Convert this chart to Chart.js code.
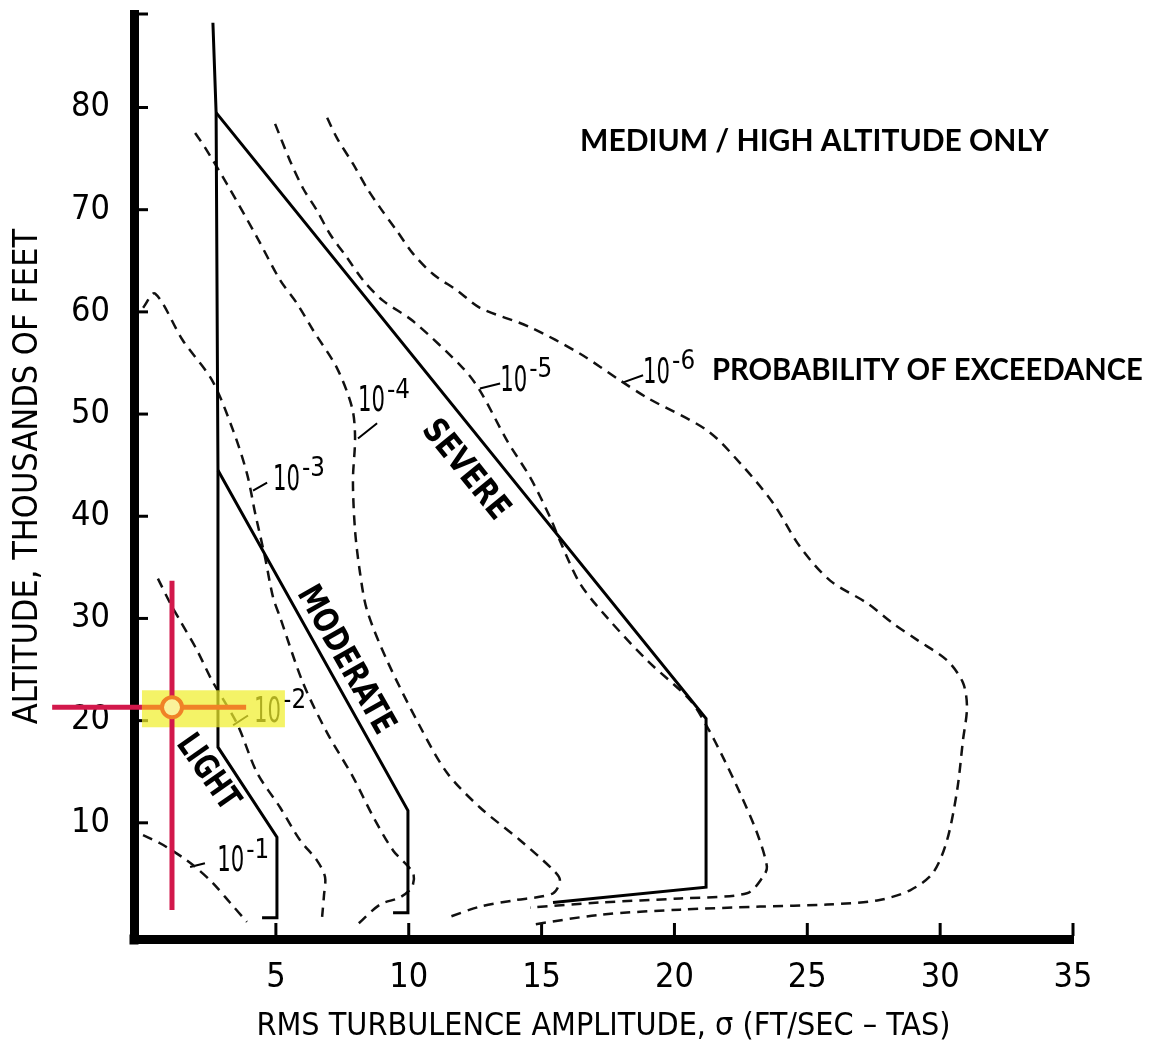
<!DOCTYPE html>
<html lang="en">
<head>
<meta charset="UTF-8">
<title>RMS turbulence amplitude vs altitude</title>
<script src="https://cdn.jsdelivr.net/npm/chart.js"></script>
<style>
  html, body { margin: 0; padding: 0; background: #fff; overflow: hidden; }
  canvas { display: block; }
</style>
</head>
<body>
<canvas id="chart" width="1154" height="1051"></canvas>
<script>
// axis ticks
const xTicks = [5, 10, 15, 20, 25, 30, 35];
const yTicks = [10, 20, 30, 40, 50, 60, 70, 80];

// severity boundaries, [sigma ft/s, altitude kft]
const lightBound = [[2.63, 88.3], [2.75, 79.5], [2.82, 44.5], [2.82, 17.4], [5.04, 8.6], [5.04, 0.7], [4.48, 0.7]];
const moderateBound = [[2.82, 44.5], [9.97, 11.2], [9.97, 1.2], [9.41, 1.2]];
const severeBound = [[2.75, 79.5], [21.19, 20.2], [21.19, 3.7], [15.43, 2.2]];

// probability of exceedance curves
const p1 = [[0, 8.8], [0.64, 8.0], [1.5, 6.6], [1.96, 5.7], [2.63, 4.1], [3.27, 2.2], [3.91, 0.3]];
const p2 = [[0.56, 33.9], [1.02, 31.5], [1.39, 29.8], [2.03, 26.9], [2.6, 23.9], [3.54, 19.7], [4.29, 14.9],
  [5.16, 11.5], [5.91, 8.3], [6.55, 6.3], [6.85, 4.7], [6.81, 2.9], [6.74, 0.8]];
const p3 = [[0, 60.4], [0.45, 61.8], [1.5, 57.2], [2.6, 53.3], [3.39, 48.4], [3.91, 44.2], [4.22, 40.3],
  [4.59, 36.0], [4.89, 32.1], [5.16, 30.1], [6.02, 23.7], [6.93, 18.8], [7.9, 14.5], [8.66, 10.6],
  [9.41, 7.3], [10.16, 5.1], [10.12, 3.7], [9.67, 2.7], [8.92, 2.0], [8.05, 0.0]];
const p4 = [[1.96, 77.5], [2.33, 76.1], [3.16, 72.5], [4.29, 67.3], [5.16, 63.1], [5.8, 60.8], [6.4, 58.2],
  [7.3, 54.5], [7.87, 50.6], [7.98, 47.7], [7.9, 43.5], [7.98, 38.6], [8.17, 34.4], [8.43, 30.8],
  [9.18, 25.9], [10.43, 19.4], [11.44, 14.9], [12.68, 11.5], [14.19, 8.3], [15.43, 5.4], [15.69, 4.4],
  [15.43, 3.1], [13.93, 2.4], [12.68, 1.8], [11.44, 0.7]];
const p5 = [[4.97, 78.4], [5.53, 74.8], [6.02, 72.1], [6.55, 69.9], [7.04, 67.6], [7.68, 65.3], [8.28, 63.1],
  [9.03, 61.1], [10.16, 59.1], [12.04, 54.5], [12.68, 52.3], [13.7, 47.4], [14.57, 43.8], [15.32, 39.9],
  [15.69, 37.6], [16.45, 33.4], [17.46, 30.1], [18.97, 25.9], [20.59, 22.0], [21.23, 19.4], [21.83, 16.4],
  [22.47, 12.9], [23.11, 9.0], [23.48, 5.7], [23.33, 4.7], [22.73, 3.1], [20.21, 2.6], [17.2, 2.2], [14.57, 1.7]];
const p6 = [[6.93, 79.0], [7.3, 77.0], [7.9, 74.5], [8.43, 72.1], [8.92, 70.2], [9.56, 67.9], [10.16, 65.7],
  [10.91, 63.7], [11.82, 62.1], [12.68, 60.4], [14.57, 58.5], [16.45, 55.9], [17.95, 53.3], [18.97, 51.6],
  [21.23, 48.4], [22.47, 45.2], [23.71, 41.3], [24.73, 37.0], [25.86, 33.7], [27.25, 31.5], [28.23, 29.5],
  [29.13, 27.9], [30.26, 25.9], [30.86, 23.7], [31.01, 21.3], [30.86, 18.1], [30.64, 13.2], [30.26, 8.3],
  [29.73, 5.1], [28.87, 3.4], [27.63, 2.4], [25.74, 2.0], [23.22, 1.8], [20.21, 1.5], [17.2, 1.0], [14.57, 0.0]];

// little leader strokes from curve to its label (null = break)
const leaders = [[1.77, 5.67], [2.33, 6.05], null, [3.39, 19.55], [3.95, 20.5], null,
  [4.14, 42.5], [4.67, 43.3], null, [8.09, 47.6], [8.81, 49.1], null,
  [12.68, 52.5], [13.44, 53.0], null, [18.07, 53.1], [18.82, 53.8]];

// reading cursor drawn over the chart
const cursorV = [[1.09, 33.7], [1.09, 1.47]];
const cursorH = [[-3.42, 21.3], [-0.04, 21.3]];
const cursorArm = [[-0.04, 21.3], [3.88, 21.3]];
const cursorPt = [[1.09, 21.3]];
const cursorBox = { x0: -0.04, x1: 5.34, y0: 19.35, y1: 22.97 };

// text on the plot
const probLabels = [
  { exp: '-1', x: 2.79, y: 6.16 }, { exp: '-2', x: 4.18, y: 20.82 }, { exp: '-3', x: 4.89, y: 43.5 },
  { exp: '-4', x: 8.09, y: 51.2 }, { exp: '-5', x: 13.44, y: 53.2 }, { exp: '-6', x: 18.82, y: 53.96 }
];
const zoneLabels = [
  { text: 'SEVERE', x: 12.12, y: 44.5, angle: 51, w: 118 },
  { text: 'MODERATE', x: 7.6, y: 25.9, angle: 60.5, w: 165 },
  { text: 'LIGHT', x: 2.41, y: 14.9, angle: 55, w: 84 }
];
const notes = [
  { text: 'MEDIUM / HIGH ALTITUDE ONLY', x: 16.45, y: 76.7, w: 477 },
  { text: 'PROBABILITY OF EXCEEDANCE', x: 21.41, y: 54.25, w: 431 }
];

const NARROW = "'Liberation Sans Narrow', 'Arial Narrow', 'DejaVu Sans Condensed', sans-serif";
const toXY = arr => arr.map(p => p ? { x: p[0], y: p[1] } : { x: null, y: null });

function solid(pts) {
  return { data: toXY(pts), borderColor: '#000', borderWidth: 3, tension: 0, order: 10 };
}
function dashed(pts) {
  return { data: toXY(pts), borderColor: '#111', borderWidth: 2.5, borderDash: [10, 7], tension: 0.3, order: 10 };
}

const datasets = [
  solid(lightBound), solid(moderateBound), solid(severeBound),
  dashed(p1), dashed(p2), dashed(p3), dashed(p4), dashed(p5), dashed(p6),
  { data: toXY(leaders), borderColor: '#000', borderWidth: 2, spanGaps: false, tension: 0, order: 10 },
  { label: 'cursor-v', data: toXY(cursorV), borderColor: '#d2184b', borderWidth: 5, tension: 0, clip: false, order: 4 },
  { data: toXY(cursorH), borderColor: '#d2184b', borderWidth: 5, tension: 0, clip: false, order: 3 },
  { data: toXY(cursorArm), borderColor: '#f08227', borderWidth: 5, tension: 0, clip: false, order: 2 },
  { data: toXY(cursorPt), showLine: false, pointRadius: 10, pointBorderWidth: 4,
    pointBorderColor: '#f08227', pointBackgroundColor: '#faf19a', clip: false, order: 1 }
];

const annotate = {
  id: 'annotate',
  beforeDatasetsDraw(chart) {
    const { ctx, chartArea: a, scales: { x, y } } = chart;
    ctx.save();
    ctx.strokeStyle = '#000';
    ctx.fillStyle = '#000';
    ctx.lineWidth = 3;
    // inward tick marks
    xTicks.forEach(v => {
      const px = x.getPixelForValue(v);
      ctx.beginPath(); ctx.moveTo(px, a.bottom - 3); ctx.lineTo(px, a.bottom - 16); ctx.stroke();
    });
    yTicks.concat([y.max]).forEach(v => {
      const py = y.getPixelForValue(v);
      ctx.beginPath(); ctx.moveTo(a.left + 3, py); ctx.lineTo(a.left + 14, py); ctx.stroke();
    });
    ctx.fillRect(a.left - 4.5, a.bottom - 4.5, 9, 10);

    // 10^-n labels
    ctx.textBaseline = 'middle';
    ctx.textAlign = 'left';
    probLabels.forEach(l => {
      const px = x.getPixelForValue(l.x), py = y.getPixelForValue(l.y);
      ctx.font = '36px ' + NARROW;
      ctx.fillText('10', px, py, 27);
      ctx.font = '26px ' + NARROW;
      ctx.fillText(l.exp, px + 29, py - 11, 23);
    });

    // zone names along boundaries
    ctx.textAlign = 'center';
    ctx.font = 'bold 34px ' + NARROW;
    zoneLabels.forEach(l => {
      ctx.save();
      ctx.translate(x.getPixelForValue(l.x), y.getPixelForValue(l.y));
      ctx.rotate(l.angle * Math.PI / 180);
      ctx.fillText(l.text, 0, 0, l.w);
      ctx.restore();
    });

    ctx.textAlign = 'left';
    ctx.font = 'bold 30px Lato, "Open Sans", sans-serif';
    notes.forEach(n => ctx.fillText(n.text, x.getPixelForValue(n.x), y.getPixelForValue(n.y), n.w));
    ctx.restore();
  },
  beforeDatasetDraw(chart, args) {
    if (chart.data.datasets[args.index].label !== 'cursor-v') return;
    const { ctx, scales: { x, y } } = chart;
    const l = x.getPixelForValue(cursorBox.x0), r = x.getPixelForValue(cursorBox.x1);
    const t = y.getPixelForValue(cursorBox.y1), b = y.getPixelForValue(cursorBox.y0);
    ctx.save();
    ctx.fillStyle = 'rgba(240, 238, 45, 0.72)';
    ctx.fillRect(l, t, r - l, b - t);
    ctx.restore();
  }
};

const tickFont = { family: NARROW, size: 34 };

new Chart(document.getElementById('chart'), {
  type: 'line',
  data: { datasets },
  options: {
    responsive: false,
    animation: false,
    layout: { padding: { top: 13, right: 81, left: 0, bottom: 0 } },
    elements: { point: { radius: 0 } },
    plugins: { legend: { display: false }, tooltip: { enabled: false } },
    scales: {
      x: {
        type: 'linear', min: -0.34, max: 35,
        afterBuildTicks: s => { s.ticks = xTicks.map(v => ({ value: v })); },
        afterFit: s => { s.height = 112; s.paddingLeft = 0; s.paddingRight = 0; },
        grid: { display: false, drawTicks: false },
        border: { display: true, color: '#000', width: 9 },
        ticks: { color: '#000', font: tickFont, padding: 19, maxRotation: 0 },
        title: { display: true, text: 'RMS TURBULENCE AMPLITUDE, σ (FT/SEC – TAS)', color: '#000',
          font: { family: NARROW, size: 32, lineHeight: 1 }, padding: { top: 0, bottom: 8 } }
      },
      y: {
        type: 'linear', min: -1.37, max: 89.15,
        afterBuildTicks: s => { s.ticks = yTicks.map(v => ({ value: v })); },
        afterFit: s => { s.width = 134; s.paddingTop = 0; s.paddingBottom = 0; },
        grid: { display: false, drawTicks: false },
        border: { display: true, color: '#000', width: 9 },
        ticks: { color: '#000', font: tickFont, padding: 24 },
        title: { display: true, text: 'ALTITUDE, THOUSANDS OF FEET', color: '#000',
          font: { family: NARROW, size: 34, lineHeight: 1 }, padding: { top: 11, bottom: 0 } }
      }
    }
  },
  plugins: [annotate]
});
</script>
</body>
</html>
